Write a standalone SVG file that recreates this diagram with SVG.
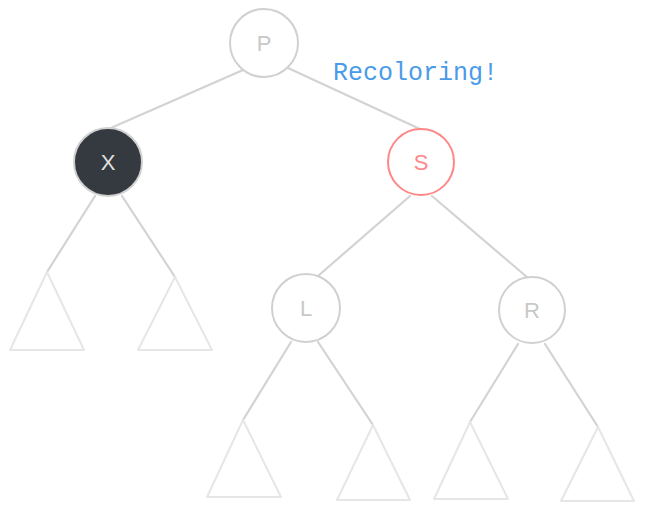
<svg xmlns="http://www.w3.org/2000/svg" width="645" height="511" viewBox="0 0 645 511">
<style>
.node{fill:#ffffff;stroke:#d0d0d0;stroke-width:2}
.lbl{font-family:"Liberation Sans",Arial,sans-serif;font-size:22px;fill:#c8c8c8;text-anchor:middle;dominant-baseline:central}
.edge{stroke:#d3d3d3;stroke-width:2.2;fill:none;stroke-linecap:round}
.tri{fill:none;stroke:#e6e6e6;stroke-width:2;stroke-linejoin:round}
</style>
<rect width="645" height="511" fill="#ffffff"/>
<g id="connectors">
<line class="edge" x1="243" y1="70" x2="104" y2="131"/>
<line class="edge" x1="288" y1="68" x2="420" y2="129"/>
<line class="edge" x1="95" y1="196" x2="47" y2="272"/>
<line class="edge" x1="122" y1="196" x2="175" y2="277"/>
<line class="edge" x1="410" y1="196" x2="318" y2="276"/>
<line class="edge" x1="432" y1="196" x2="528" y2="278"/>
<line class="edge" x1="291" y1="342" x2="243" y2="420"/>
<line class="edge" x1="318" y1="342" x2="373" y2="425"/>
<line class="edge" x1="518" y1="344" x2="470" y2="422"/>
<line class="edge" x1="545" y1="344" x2="598" y2="427"/>
</g>
<g id="node-P"><circle class="node" cx="264" cy="43" r="34"/><text class="lbl" x="264" y="43">P</text></g>
<g id="node-X"><circle cx="108" cy="162" r="34" fill="#343a40" stroke="#d0d0d0" stroke-width="2"/><text class="lbl" x="108" y="162" style="fill:#e0e0e0">X</text></g>
<g id="node-S"><circle cx="421" cy="162" r="33" fill="#ffffff" stroke="#ff8787" stroke-width="2"/><text class="lbl" x="421" y="162" style="fill:#ff8787">S</text></g>
<g id="node-L"><circle class="node" cx="306" cy="308" r="34"/><text class="lbl" x="306" y="308">L</text></g>
<g id="node-R"><circle class="node" cx="532" cy="310" r="33"/><text class="lbl" x="532" y="310">R</text></g>
<g id="tri-XL"><polygon class="tri" points="47,272 84,350 10,350"/></g>
<g id="tri-XR"><polygon class="tri" points="175,277 212,350 138,350"/></g>
<g id="tri-LL"><polygon class="tri" points="243,420 281,497 207,497"/></g>
<g id="tri-LR"><polygon class="tri" points="373,425 410,500 337,500"/></g>
<g id="tri-RL"><polygon class="tri" points="470,422 508,499 434,499"/></g>
<g id="tri-RR"><polygon class="tri" points="598,427 634,501 561,501"/></g>
<g id="note"><text x="333" y="80" font-family="Liberation Mono,monospace" font-size="25" fill="#4a9be8">Recoloring!</text></g>
</svg>
